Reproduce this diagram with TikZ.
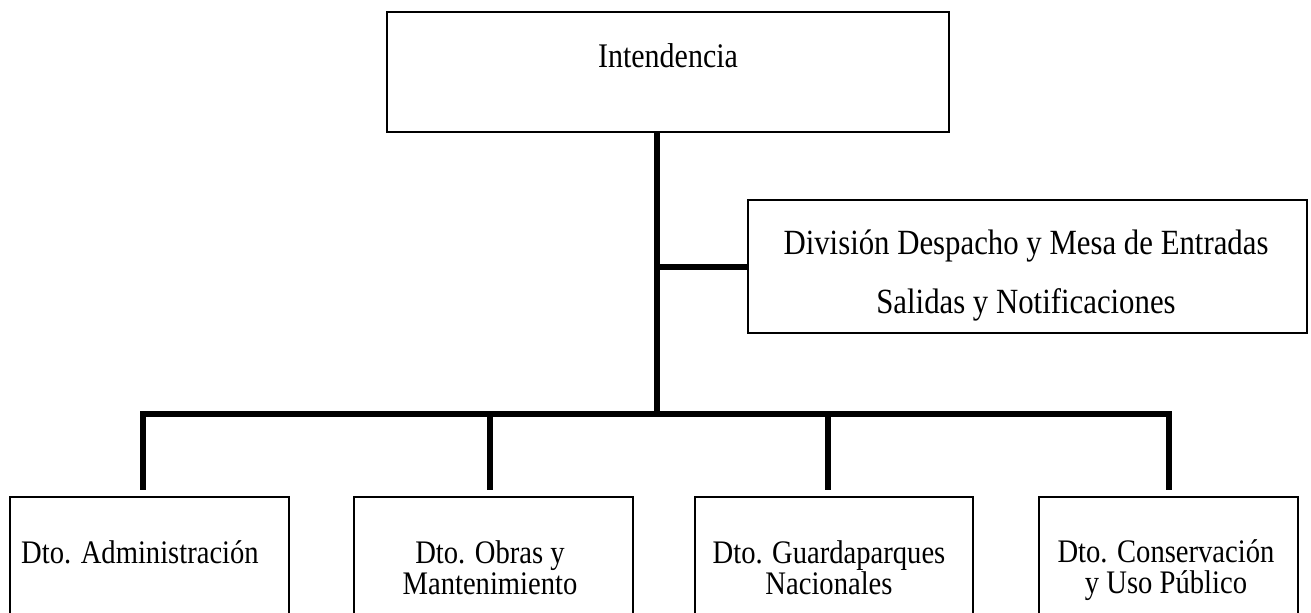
\documentclass[tikz,border=0pt]{standalone}
\usepackage{fontspec}
\setmainfont{Liberation Serif}
\newcommand{\vstr}[1]{\scalebox{1}[1.15]{#1}}
\begin{document}
\begin{tikzpicture}[x=0.5pt,y=-0.5pt,
  box/.style={draw, line width=1pt, inner sep=0pt, anchor=north west},
  lbl/.style={font=\fontsize{14.3}{15.5}\selectfont, align=center, inner sep=0pt},
  conn/.style={line width=2.6pt, line join=miter}]
\useasboundingbox (0,0) rectangle (1311,613);
% boxes
\node[box, minimum width=281pt, minimum height=60pt] (int) at (386,11) {};
\node[box, minimum width=279.5pt, minimum height=66.5pt] (div) at (747,199) {};
\node[box, minimum width=139.5pt, minimum height=67pt] (b1) at (9,496) {};
\node[box, minimum width=139.5pt, minimum height=67pt] (b2) at (353,496) {};
\node[box, minimum width=139pt, minimum height=67pt] (b3) at (694,496) {};
\node[box, minimum width=129.5pt, minimum height=67pt] (b4) at (1038,496) {};
% labels
\node[lbl, font=\fontsize{15}{16}\selectfont] (tint) at (668,56) {\vstr{Intendencia}};
\node[lbl, font=\fontsize{15.4}{29.5}\selectfont] (tdiv) at (1026,276) {\vstr{División Despacho y Mesa de Entradas}\\\vstr{Salidas y Notificaciones}};
\node[lbl] (t1) at (140,552) {\vstr{Dto. Administración}};
\node[lbl] (t2) at (490,568) {\vstr{Dto. Obras y}\\\vstr{Mantenimiento}};
\node[lbl] (t3) at (829,568) {\vstr{Dto. Guardaparques}\\\vstr{Nacionales}};
\node[lbl] (t4) at (1166,570) {\vstr{Dto. Conservación}\\\vstr{y Uso Público}};
% junction coordinates
\coordinate (j1) at (657,267);
\coordinate (j2) at (657,414);
\coordinate (d1) at (143,490);
\coordinate (d2) at (490,490);
\coordinate (d3) at (828,490);
\coordinate (d4) at (1169,490);
% connectors
\draw[conn] (int.south -| j2) -- (j2);
\draw[conn] (j1) -- (j1 -| div.west);
\draw[conn] (d1) -- (d1 |- j2) -- (d4 |- j2) -- (d4);
\draw[conn] (d2 |- j2) -- (d2);
\draw[conn] (d3 |- j2) -- (d3);
\end{tikzpicture}
\end{document}
